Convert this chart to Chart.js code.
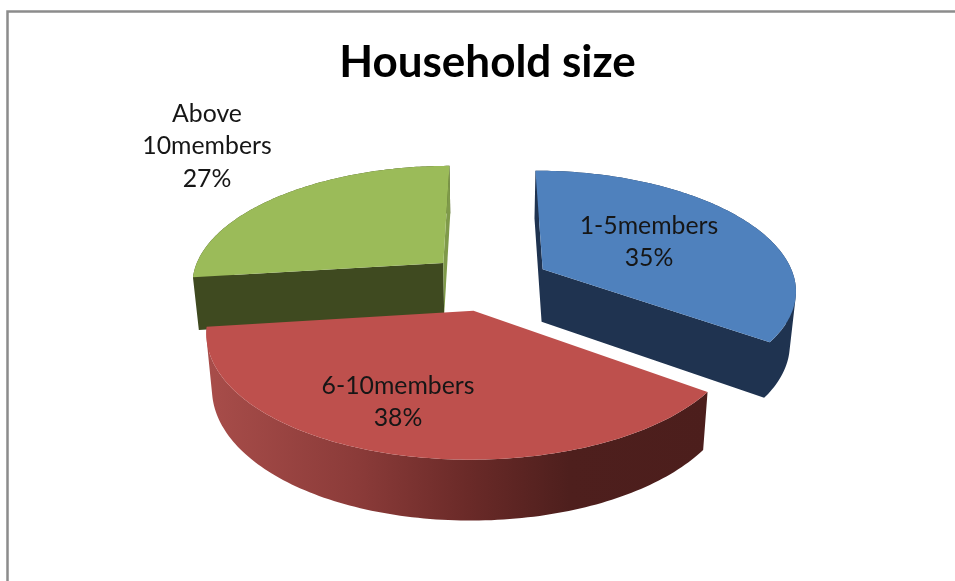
<!DOCTYPE html>
<html>
<head>
<meta charset="utf-8">
<title>Household size</title>
<script src="https://cdn.jsdelivr.net/npm/chart.js@4/dist/chart.umd.min.js"></script>
<style>
  html, body { margin: 0; padding: 0; background: #fff; overflow: hidden; }
  #wrap { width: 955px; height: 581px; }
</style>
</head>
<body>
<div id="wrap"><canvas id="chart" width="955" height="581"></canvas></div>
<script>
// Share of respondents per household size, in percent
const categories = ['1-5members', '6-10members', 'Above 10members'];
const shares = [35, 38, 27];

const topColors = ['#4f81bd', '#be504d', '#9bbb59'];
// Cut faces at the start and end of each slice; the front slice hides its own
const startFaceColors = ['#1f3350', null, '#3f4a20'];
const endFaceColors = ['#1f3350', null, '#7f9a4a'];
const wallColors = ['#1f3350', null, '#3f4a20'];
const explodeRatios = [0.24, 0.245, 0.25];
// Wrapped label lines and their centres on the canvas
const labelLines = [['1-5members'], ['6-10members'], ['Above', '10members']];
const labelCentres = [[649, 226], [398, 386], [207, 114]];
const labelLineHeight = 32.5;

// Tilted-disc projection
const DISC_RADIUS = 253, DISC_DEPTH = 117, PERSPECTIVE_X = 0.16, PERSPECTIVE_Y = 0.15;
const DISC_SHIFT_X = 2;
const WALL_SHRINK = 0.98, WALL_HEIGHT = 52, WALL_GROWTH = 0.045, WALL_REF_Y = 262;

function project(cx, cy, u, v) {
  return {
    x: cx + DISC_SHIFT_X + DISC_RADIUS * u / (1 - PERSPECTIVE_X * v),
    y: cy + DISC_DEPTH * v / (1 - PERSPECTIVE_Y * v)
  };
}
function dropToBase(cx, p) {
  return {
    x: cx + (p.x - cx) * WALL_SHRINK,
    y: p.y + WALL_HEIGHT + WALL_GROWTH * (p.y - WALL_REF_Y)
  };
}
function tracePolygon(ctx, pts) {
  pts.forEach((p, i) => i ? ctx.lineTo(p.x, p.y) : ctx.moveTo(p.x, p.y));
  ctx.closePath();
}
function signedArea(pts) {
  return pts.reduce((sum, p, i) => {
    const q = pts[(i + 1) % pts.length];
    return sum + p.x * q.y - q.x * p.y;
  }, 0);
}
// Polygons sharing a style go into one path with a common winding, so no seams show
function fillShapes(ctx, shapes, style) {
  ctx.beginPath();
  shapes.forEach((pts) => tracePolygon(ctx, signedArea(pts) < 0 ? pts.slice().reverse() : pts));
  ctx.fillStyle = style;
  ctx.fill();
}

// Pie controller that extrudes the library's arc elements into an exploded 3D disc
class Pie3DController extends Chart.PieController {
  draw() {
    const ctx = this.chart.ctx;
    const arcs = this.getMeta().data;
    const wallGradient = ctx.createLinearGradient(207, 0, 710, 0);
    wallGradient.addColorStop(0, '#a84d4a');
    wallGradient.addColorStop(0.3, '#8b3b39');
    wallGradient.addColorStop(0.52, '#6a2a28');
    wallGradient.addColorStop(0.72, '#4e1f1d');
    wallGradient.addColorStop(1, '#4c1e1c');

    // Back slices first so the front slice covers their lower edges
    [2, 0, 1].forEach((index) => {
      const arc = arcs[index];
      const { x: cx, y: cy, startAngle, endAngle } = arc.getProps(['x', 'y', 'startAngle', 'endAngle']);
      const mid = (startAngle + endAngle) / 2;
      const ou = explodeRatios[index] * Math.cos(mid), ov = explodeRatios[index] * Math.sin(mid);
      const apex = project(cx, cy, ou, ov);
      const rim = [];
      const steps = 120;
      for (let i = 0; i <= steps; i++) {
        const a = startAngle + (endAngle - startAngle) * i / steps;
        rim.push(project(cx, cy, ou + Math.cos(a), ov + Math.sin(a)));
      }
      const base = rim.map((p) => dropToBase(cx, p));
      const apexBase = dropToBase(cx, apex);

      // Outer wall, with any cut face of the same colour in the same path
      const wallColor = wallColors[index];
      const startFace = [rim[0], apex, apexBase, base[0]];
      const endFace = [rim[steps], apex, apexBase, base[steps]];
      const shapes = [];
      for (let i = 0; i < steps; i++) {
        shapes.push([rim[i], rim[i + 1], base[i + 1], base[i]]);
      }
      if (startFaceColors[index] === wallColor && wallColor) shapes.push(startFace);
      if (endFaceColors[index] === wallColor && wallColor) shapes.push(endFace);
      fillShapes(ctx, shapes, wallColor || wallGradient);

      // Cut face with a colour of its own
      if (endFaceColors[index] && endFaceColors[index] !== wallColor) {
        fillShapes(ctx, [endFace], endFaceColors[index]);
      }

      // Top surface
      fillShapes(ctx, [[apex].concat(rim)], topColors[index]);
    });
  }
}
Pie3DController.id = 'pie3d';
Pie3DController.defaults = Chart.PieController.defaults;
Pie3DController.overrides = Chart.PieController.overrides;
Chart.register(Pie3DController);

const frame = {
  id: 'frame',
  beforeDraw(chart) {
    const ctx = chart.ctx;
    ctx.save();
    ctx.fillStyle = '#ffffff';
    ctx.fillRect(0, 0, chart.width, chart.height);
    ctx.strokeStyle = '#8c8c8c';
    ctx.lineWidth = 2.5;
    ctx.beginPath();
    ctx.moveTo(7.5, chart.height + 2);
    ctx.lineTo(7.5, 11.5);
    ctx.lineTo(chart.width + 2, 11.5);
    ctx.stroke();
    ctx.restore();
  }
};

const sliceLabels = {
  id: 'sliceLabels',
  afterDatasetsDraw(chart) {
    const ctx = chart.ctx;
    ctx.save();
    ctx.font = '400 24.8px Lato, "Open Sans", sans-serif';
    ctx.fillStyle = '#161616';
    ctx.textAlign = 'center';
    ctx.textBaseline = 'middle';
    shares.forEach((share, i) => {
      const lines = labelLines[i].concat(share + '%');
      const [x, y] = labelCentres[i];
      lines.forEach((line, k) => ctx.fillText(line, x, y + k * labelLineHeight));
    });
    ctx.restore();
  }
};

new Chart(document.getElementById('chart'), {
  type: 'pie3d',
  data: {
    labels: categories,
    datasets: [{ data: shares, backgroundColor: topColors, borderWidth: 0 }]
  },
  plugins: [frame, sliceLabels],
  options: {
    responsive: false,
    animation: false,
    events: [],
    layout: { padding: { left: 20, bottom: 110 } },
    plugins: {
      legend: { display: false },
      tooltip: { enabled: false },
      title: {
        display: true,
        text: 'Household size',
        color: '#000000',
        font: { family: 'Lato, "Open Sans", sans-serif', size: 44, weight: 'bold' },
        padding: { top: 36, bottom: 4 }
      }
    }
  }
});
</script>
</body>
</html>
